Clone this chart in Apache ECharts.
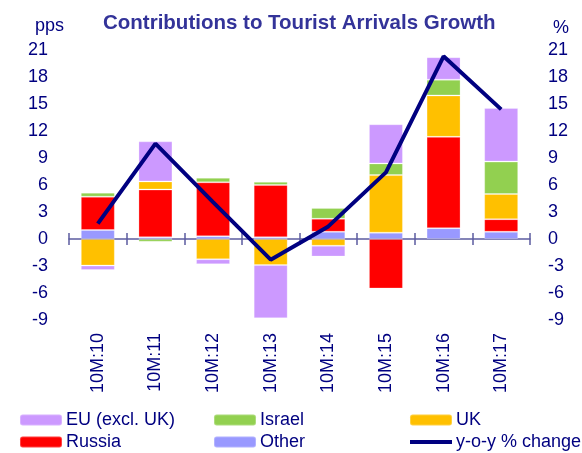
<!DOCTYPE html>
<html>
<head>
<meta charset="utf-8">
<script src="https://cdn.jsdelivr.net/npm/echarts@6/dist/echarts.min.js"></script>
<style>
  html, body { margin: 0; padding: 0; background: #fff; }
  #chart { width: 582px; height: 453px; }
</style>
</head>
<body>
<div id="chart"></div>
<script>
const categories = ['10M:10', '10M:11', '10M:12', '10M:13', '10M:14', '10M:15', '10M:16', '10M:17']
const other = [1.0, 0.2, 0.3, 0.2, 0.8, 0.7, 1.2, 0.8]
const russia = [3.7, 5.3, 6.0, 5.8, 1.45, -5.5, 10.15, 1.4]
const uk = [-2.95, 0.9, -2.25, -2.9, -0.75, 6.4, 4.6, 2.8]
const israel = [0.45, -0.3, 0.5, 0.35, 1.2, 1.3, 1.75, 3.6]
const eu = [-0.5, 4.45, -0.55, -5.9, -1.2, 4.35, 2.5, 5.95]
const yoy = [1.7, 10.6, 4.1, -2.3, 1.4, 7.4, 20.3, 14.4]
const yTicks = { min: -9, max: 21, interval: 3 }

const navy = '#000080'
const font = 'Liberation Sans'

const chart = echarts.init(document.getElementById('chart'))

const barSeries = (name, data, color) => ({
    type: 'bar', name, data, stack: 'c', barWidth: 34,
    itemStyle: { color, borderColor: 'rgba(255,255,255,0.25)', borderWidth: 1 },
    xAxisIndex: 0, yAxisIndex: 0
})

const legendBase = {
    orient: 'vertical', top: 411, height: 60, padding: 0,
    itemWidth: 42, itemHeight: 11, itemGap: 4,
    textStyle: { color: navy, fontSize: 18, lineHeight: 18, fontFamily: font, padding: [0, 0, 0, -1] }
}

chart.setOption({
    animation: false,
    textStyle: { fontFamily: font },
    title: [
        { text: 'Contributions to Tourist Arrivals Growth', left: 98, top: 8,
          textStyle: { color: '#333399', fontSize: 20.5, fontWeight: 'bold', fontFamily: font } },
        { text: 'pps', left: 30, top: 12, textStyle: { color: navy, fontSize: 18, fontWeight: 'normal', fontFamily: font } },
        { text: '%', left: 548, top: 14, textStyle: { color: navy, fontSize: 18, fontWeight: 'normal', fontFamily: font } }
    ],
    legend: [
        Object.assign({ left: 19, data: ['EU (excl. UK)', 'Russia'] }, legendBase),
        Object.assign({ left: 213, data: ['Israel', 'Other'] }, legendBase),
        Object.assign({ left: 408, data: ['UK', { name: 'y-o-y % change', itemStyle: { opacity: 0 }, lineStyle: { width: 4 } }] }, legendBase)
    ],
    grid: { left: 69, right: 52, top: 50, bottom: 133 },
    xAxis: [
        { type: 'category', data: categories, position: 'bottom',
          axisLine: { show: false, onZero: false }, axisTick: { show: false },
          axisLabel: { rotate: 90, color: navy, fontSize: 18, margin: 13 } },
        { type: 'category', data: categories,
          axisLine: { onZero: true, lineStyle: { color: '#5c5ca0', width: 1.5 } },
          axisTick: { show: true, length: 6, lineStyle: { color: '#5c5ca0', width: 1.5 } },
          axisLabel: { show: false } },
        { type: 'category', data: categories,
          axisLine: { show: true, onZero: true, lineStyle: { color: 'rgba(0,0,0,0)' } },
          axisTick: { show: true, inside: true, length: 6, lineStyle: { color: '#5c5ca0', width: 1.5 } },
          axisLabel: { show: false } }
    ],
    yAxis: [
        Object.assign({ type: 'value', position: 'left',
          axisLine: { show: false }, axisTick: { show: false }, splitLine: { show: false },
          axisLabel: { color: navy, fontSize: 18, margin: 21 } }, yTicks),
        Object.assign({ type: 'value', position: 'right',
          axisLine: { show: false }, axisTick: { show: false }, splitLine: { show: false },
          axisLabel: { color: navy, fontSize: 18, margin: 18 } }, yTicks)
    ],
    series: [
        barSeries('Other', other, '#9999FF'),
        barSeries('Russia', russia, '#FF0000'),
        barSeries('UK', uk, '#FFC000'),
        barSeries('Israel', israel, '#92D050'),
        barSeries('EU (excl. UK)', eu, '#CC99FF'),
        { type: 'line', name: 'y-o-y % change', data: yoy, xAxisIndex: 0, yAxisIndex: 1,
          symbol: 'none', lineStyle: { color: navy, width: 4 }, itemStyle: { color: navy }, z: 5 }
    ]
})
</script>
</body>
</html>
